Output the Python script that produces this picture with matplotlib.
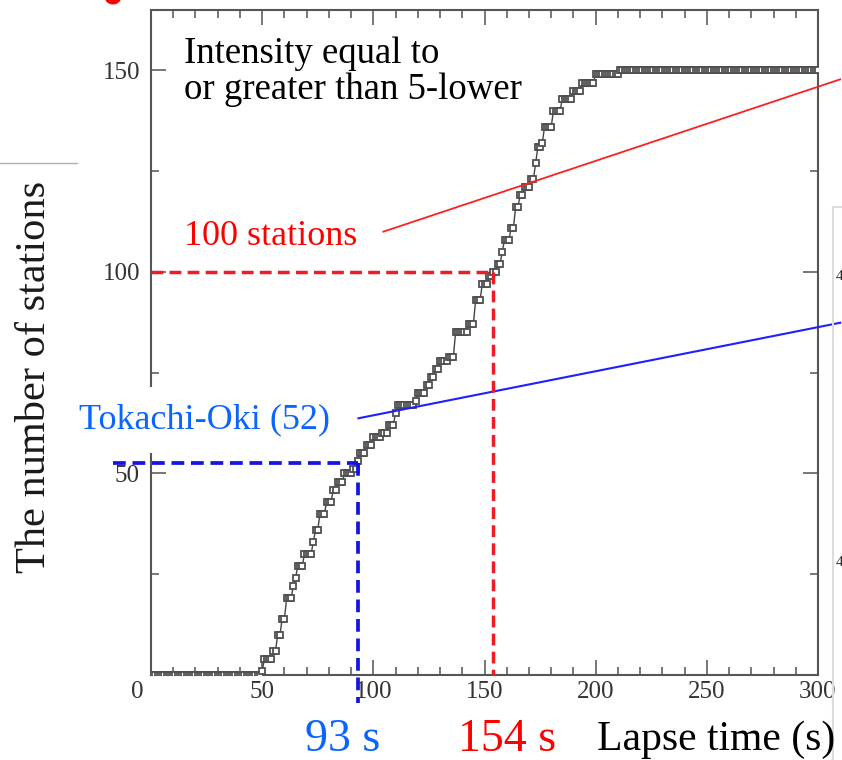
import numpy as np
import matplotlib
matplotlib.use("Agg")
import matplotlib.pyplot as plt
from matplotlib.lines import Line2D
from matplotlib.patches import Circle
import matplotlib.transforms as mtransforms

# Times (s) at which the station count steps up
step_times = [0, 50, 51, 55, 57, 59, 61, 64, 65, 66, 69, 73, 74, 76, 79, 82, 84, 87,
              91, 93, 94, 97, 100, 104, 107, 110, 111, 119, 120, 124, 126, 128, 130,
              134, 137, 143, 146, 149, 152, 154, 156, 158, 159, 162, 164, 166, 168,
              171, 173, 174, 176, 177, 181, 185, 190, 194, 200, 211]
step_counts = [0, 1, 4, 6, 10, 14, 19, 22, 24, 27, 30, 33, 36, 40, 43, 46, 48, 50,
               51, 53, 55, 57, 59, 60, 62, 65, 67, 68, 70, 72, 74, 76, 78,
               79, 85, 87, 93, 97, 99, 100, 102, 105, 108, 111, 116, 119, 121,
               123, 127, 131, 132, 136, 140, 143, 145, 147, 149, 150]

# Threshold crossings
tokachi_time, tokachi_count = 93, 52.5
hundred_time, hundred_count = 154, 100

# Trend lines drawn on the figure (start, end)
red_line_t = [104.5, 310]
red_line_n = [110, 147.8]
blue_line_t = [93.3, 310]
blue_line_n = [63.7, 87.4]

x_ticks = [0, 50, 100, 150, 200, 250, 300]
y_ticks = [0, 50, 100, 150]

serif = "Liberation Serif"
plt.rcParams["font.family"] = [serif, "DejaVu Serif"]

fig = plt.figure(figsize=(8.42, 7.6), dpi=100)
ax = fig.add_axes([151 / 842, 85 / 760, 667 / 842, 665 / 760])

# Count curve sampled every second from the step data
t_sec = np.arange(0, 301)
idx = np.searchsorted(step_times, t_sec, side="right") - 1
n_sec = np.array(step_counts)[idx]
ax.plot(t_sec, n_sec, color="#444444", lw=1.0, marker="s", ms=5.0,
        mfc="white", mec="#505050", mew=1.3, zorder=3)

# Trend lines (extend past the right spine)
ax.plot(red_line_t, red_line_n, color="#ff2020", lw=1.3, clip_on=False, zorder=4)
ax.plot(blue_line_t, blue_line_n, color="#2020ff", lw=1.5, clip_on=False, zorder=4)

# Dashed guides
ax.plot([0, hundred_time], [hundred_count, hundred_count], color="#ee1c24", lw=2.5,
        dashes=(3.4, 1.8), clip_on=False, zorder=5)
ax.plot([hundred_time, hundred_time], [hundred_count, 0], color="#ee1c24", lw=2.5,
        dashes=(3.4, 1.8), clip_on=False, zorder=5)
ax.plot([-17, tokachi_time], [tokachi_count, tokachi_count], color="#1515e0", lw=2.7,
        dashes=(3.4, 1.8), clip_on=False, zorder=5)
ax.plot([tokachi_time, tokachi_time], [tokachi_count, -7], color="#1515e0", lw=2.7,
        dashes=(3.4, 1.8), clip_on=False, zorder=5)

ax.set_xlim(0, 300)
ax.set_ylim(0, 165)

# Axes styling
for sp in ax.spines.values():
    sp.set_color("#555555")
    sp.set_linewidth(1.5)
ax.set_xticks(x_ticks)
ax.set_xticks(np.arange(0, 301, 10), minor=True)
ax.set_yticks(y_ticks)
ax.set_yticks(np.arange(0, 166, 25), minor=True)
ax.set_yticklabels(["", "50", "100", "150"])
ax.tick_params(which="both", direction="in", top=True, right=True, color="#777777",
               width=1.4, labelsize=18, labelcolor="#333333")
ax.tick_params(which="major", length=10.5)
ax.tick_params(which="minor", length=6)
ax.tick_params(axis="x", pad=4)
ax.tick_params(axis="y", pad=8)

# nudge the shared "0" label to the left, like the picture
offset = mtransforms.ScaledTranslation(-14 / 100, 0, fig.dpi_scale_trans)
lab0 = ax.get_xticklabels()[0]
lab0.set_transform(lab0.get_transform() + offset)

ax.set_ylabel("The number of stations", fontsize=30.5, color="#1a1a1a")
ax.yaxis.set_label_coords(-0.145, 0.448)

# Annotations
ax.text(14.8, 158.5, "Intensity equal to\nor greater than 5-lower", fontsize=26.5,
        ha="left", va="top", linespacing=1.05, color="black", zorder=6)
ax.text(14.8, 106.7, "100 stations", fontsize=26, color="#ff0000", ha="left",
        va="baseline", zorder=6)
ax.text(-32.3, 61.2, "Tokachi-Oki (52)", fontsize=26, color="#0a64ff", ha="left",
        va="baseline", clip_on=False, zorder=7,
        bbox=dict(boxstyle="square,pad=0.45", fc="white", ec="none"))

fig.text(305 / 842, 1 - 751 / 760, "93 s", fontsize=33, color="#0a64ff",
         ha="left", va="baseline")
fig.text(458 / 842, 1 - 751 / 760, "154 s", fontsize=33, color="#ff0000",
         ha="left", va="baseline")
fig.text(597 / 842, 1 - 750 / 760, "Lapse time (s)", fontsize=30, color="black",
         ha="left", va="baseline")

# Bits of neighbouring panels visible in the screenshot
fig.add_artist(Line2D([0, 77 / 842], [1 - 163 / 760] * 2, color="#b0b0b0", lw=1))
fig.add_artist(Line2D([833 / 842] * 2, [0, 1 - 207 / 760], color="#dddddd", lw=1.5))
fig.add_artist(Line2D([833 / 842, 1], [1 - 207 / 760] * 2, color="#dddddd", lw=1.5))
fig.text(836 / 842, 1 - 277 / 760, "4", fontsize=11, color="#333333", va="center")
fig.text(836 / 842, 1 - 562 / 760, "4", fontsize=11, color="#333333", va="center")
fig.add_artist(Circle((113 / 842, 1 + 3 / 760), 0.009, transform=fig.transFigure,
                      color="#ff0000", clip_on=False))

fig.savefig("out.png", dpi=100)
